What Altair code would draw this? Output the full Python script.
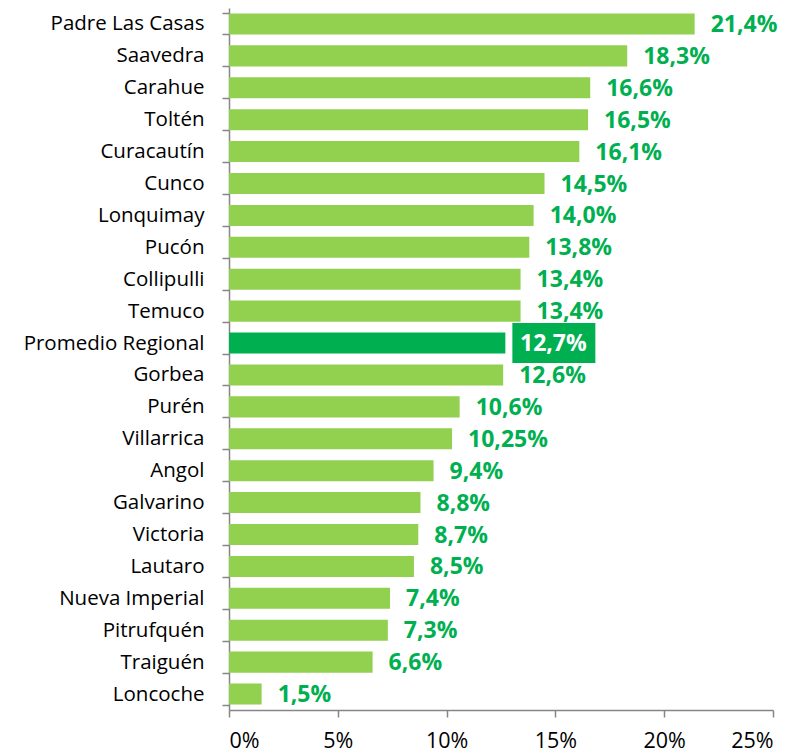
import altair as alt
import pandas as pd

comunas = ["Padre Las Casas", "Saavedra", "Carahue", "Toltén", "Curacautín", "Cunco",
           "Lonquimay", "Pucón", "Collipulli", "Temuco", "Promedio Regional", "Gorbea",
           "Purén", "Villarrica", "Angol", "Galvarino", "Victoria", "Lautaro",
           "Nueva Imperial", "Pitrufquén", "Traiguén", "Loncoche"]
valores = [21.4, 18.3, 16.6, 16.5, 16.1, 14.5, 14.0, 13.8, 13.4, 13.4, 12.7, 12.6,
           10.6, 10.25, 9.4, 8.8, 8.7, 8.5, 7.4, 7.3, 6.6, 1.5]
etiquetas = ["21,4%", "18,3%", "16,6%", "16,5%", "16,1%", "14,5%", "14,0%", "13,8%",
             "13,4%", "13,4%", "12,7%", "12,6%", "10,6%", "10,25%", "9,4%", "8,8%",
             "8,7%", "8,5%", "7,4%", "7,3%", "6,6%", "1,5%"]
destacado = "Promedio Regional"

df = pd.DataFrame({"comuna": comunas, "valor": valores, "etiqueta": etiquetas})
df["tipo"] = ["prom" if c == destacado else "com" for c in comunas]

FONT = "Open Sans"
AXIS_COLOR = "#868686"

y_enc = alt.Y("comuna:N", sort=comunas, title=None,
              scale=alt.Scale(paddingInner=0.34, paddingOuter=0.17),
              axis=alt.Axis(tickBand="extent", tickSize=7, labelPadding=18,
                            labelFontSize=20.5, labelFont=FONT, labelColor="#000000",
                            domainColor=AXIS_COLOR, tickColor=AXIS_COLOR, grid=False,
                            domainWidth=1.5, tickWidth=1.5, labelLimit=300))
x_enc = alt.X("valor:Q", title=None,
              scale=alt.Scale(domain=[0, 25], nice=False),
              axis=alt.Axis(values=[0, 5, 10, 15, 20, 25], format=".0f",
                            labelExpr="datum.value + '%'", tickSize=7, labelPadding=13,
                            labelFontSize=21.5, labelFont=FONT, labelColor="#000000",
                            domainColor=AXIS_COLOR, tickColor=AXIS_COLOR, grid=False,
                            domainWidth=1.5, tickWidth=1.5))

bars = alt.Chart(df).mark_bar().encode(
    y=y_enc, x=x_enc,
    color=alt.Color("tipo:N", scale=alt.Scale(domain=["com", "prom"],
                                               range=["#92D050", "#00B050"]), legend=None),
)

labels = alt.Chart(df).transform_filter(alt.datum.tipo == "com").mark_text(
    align="left", baseline="middle", dx=16, dy=1, fontSize=23, fontWeight="bold",
    font=FONT, color="#00B050"
).encode(y=alt.Y("comuna:N", sort=comunas), x="valor:Q", text="etiqueta:N")

box = alt.Chart(df).transform_filter(alt.datum.tipo == "prom").mark_bar(
    color="#00B050", height=40, xOffset=7, x2Offset=90
).encode(y=alt.Y("comuna:N", sort=comunas), x="valor:Q", x2="valor:Q")

box_text = alt.Chart(df).transform_filter(alt.datum.tipo == "prom").mark_text(
    align="center", baseline="middle", dx=48, dy=1, fontSize=23, fontWeight="bold",
    font=FONT, color="#FFFFFF"
).encode(y=alt.Y("comuna:N", sort=comunas), x="valor:Q", text="etiqueta:N")

chart = alt.layer(bars, labels, box, box_text).properties(
    width=544, height=702,
    autosize=alt.AutoSizeParams(type="none"),
    padding={"left": 221, "top": 0, "right": 25, "bottom": 45},
).configure_view(stroke=None)

chart.save("out.html", embed_options={"renderer": "svg", "actions": False})
